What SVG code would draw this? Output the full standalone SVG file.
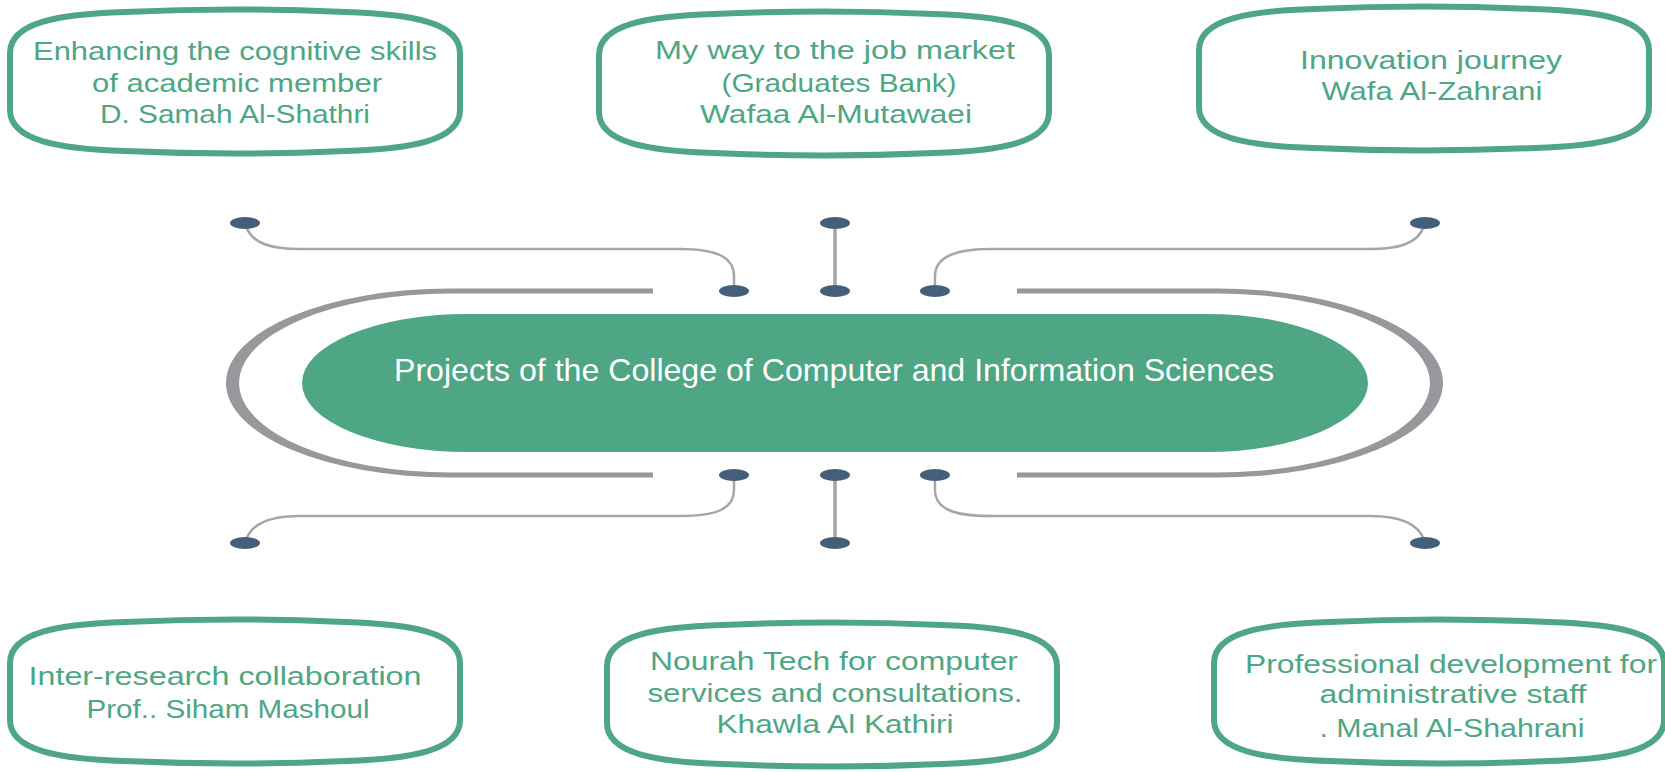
<svg xmlns="http://www.w3.org/2000/svg" xmlns:xlink="http://www.w3.org/1999/xlink" width="1665" height="772" viewBox="0 0 1665 772">
<style>
.box{fill:#ffffff;stroke:#4ea685;stroke-width:6}
.t{font-family:"Liberation Sans",Arial,sans-serif;font-size:26px;fill:#4ea685;text-anchor:middle}
.ct{font-family:"Liberation Sans",Arial,sans-serif;font-size:32px;fill:#ffffff;text-anchor:middle}
.con{fill:none;stroke:#a6a6aa;stroke-width:2.5}
.conv{fill:none;stroke:#a6a6aa;stroke-width:3.5}
.dot{fill:#445f79}
.arc{fill:#98989c}
</style>
<defs>
<path id="bx" d="M0,45 C0,14 50,6 115,4 Q225,-1 335,4 C400,6 450,14 450,45 L450,102 C450,133 400,141 335,143 Q225,148 115,143 C50,141 0,133 0,102 Z"/>
</defs>
<rect width="1665" height="772" fill="#ffffff"/>
<g id="connectors">
<path class="arc" d="M653,288.5 L450,288.5 A224,94.5 0 0 0 450,477.5 L653,477.5 L653,472.5 L450,472.5 A211,89.5 0 0 1 450,293.5 L653,293.5 Z"/>
<path class="arc" d="M1017,288.5 L1217,288.5 A226,94.5 0 0 1 1217,477.5 L1017,477.5 L1017,472.5 L1217,472.5 A213,89.5 0 0 0 1217,293.5 L1017,293.5 Z"/>
<path class="con" d="M246,226 C252,244 272,249 300,249 L680,249 C718,249 734,258 734,276 L734,290"/>
<path class="con" d="M1424,226 C1418,244 1398,249 1370,249 L990,249 C952,249 935,258 935,276 L935,290"/>
<path class="con" d="M734,476 L734,490 C734,508 718,516 680,516 L300,516 C272,516 252,522 246,540"/>
<path class="con" d="M935,476 L935,490 C935,508 952,516 990,516 L1370,516 C1398,516 1418,522 1424,540"/>
<path class="conv" d="M835,223 L835,291"/>
<path class="conv" d="M835,475 L835,543"/>
<ellipse class="dot" cx="245" cy="223" rx="15" ry="6"/>
<ellipse class="dot" cx="835" cy="223" rx="15" ry="6"/>
<ellipse class="dot" cx="1425" cy="223" rx="15" ry="6"/>
<ellipse class="dot" cx="734" cy="291" rx="15" ry="6"/>
<ellipse class="dot" cx="835" cy="291" rx="15" ry="6"/>
<ellipse class="dot" cx="935" cy="291" rx="15" ry="6"/>
<ellipse class="dot" cx="734" cy="475" rx="15" ry="6"/>
<ellipse class="dot" cx="835" cy="475" rx="15" ry="6"/>
<ellipse class="dot" cx="935" cy="475" rx="15" ry="6"/>
<ellipse class="dot" cx="245" cy="543" rx="15" ry="6"/>
<ellipse class="dot" cx="835" cy="543" rx="15" ry="6"/>
<ellipse class="dot" cx="1425" cy="543" rx="15" ry="6"/>
</g>
<g id="center">
<path d="M467,314 L1207,314 A161,69 0 0 1 1207,452 L467,452 A165,69 0 0 1 467,314 Z" fill="#4ea685"/>
<text class="ct" x="834" y="381" textLength="880" lengthAdjust="spacingAndGlyphs">Projects of the College of Computer and Information Sciences</text>
</g>
<g id="node1">
<use xlink:href="#bx" href="#bx" class="box" transform="translate(10,8)"/>
<text class="t" x="235" y="60" textLength="404" lengthAdjust="spacingAndGlyphs">Enhancing the cognitive skills</text>
<text class="t" x="237" y="92" textLength="290" lengthAdjust="spacingAndGlyphs">of academic member</text>
<text class="t" x="235" y="123" textLength="270" lengthAdjust="spacingAndGlyphs">D. Samah Al-Shathri</text>
</g>
<g id="node2">
<use xlink:href="#bx" href="#bx" class="box" transform="translate(599,10)"/>
<text class="t" x="835" y="59" textLength="360" lengthAdjust="spacingAndGlyphs">My way to the job market</text>
<text class="t" x="839" y="92" textLength="235" lengthAdjust="spacingAndGlyphs">(Graduates Bank)</text>
<text class="t" x="836" y="123" textLength="272" lengthAdjust="spacingAndGlyphs">Wafaa Al-Mutawaei</text>
</g>
<g id="node3">
<use xlink:href="#bx" href="#bx" class="box" transform="translate(1199,5)"/>
<text class="t" x="1431" y="69" textLength="262" lengthAdjust="spacingAndGlyphs">Innovation journey</text>
<text class="t" x="1432" y="100" textLength="221" lengthAdjust="spacingAndGlyphs">Wafa Al-Zahrani</text>
</g>
<g id="node4">
<use xlink:href="#bx" href="#bx" class="box" transform="translate(10,618)"/>
<text class="t" x="225" y="685" textLength="393" lengthAdjust="spacingAndGlyphs">Inter-research collaboration</text>
<text class="t" x="228" y="718" textLength="283" lengthAdjust="spacingAndGlyphs">Prof.. Siham Mashoul</text>
</g>
<g id="node5">
<use xlink:href="#bx" href="#bx" class="box" transform="translate(607,621)"/>
<text class="t" x="834" y="670" textLength="368" lengthAdjust="spacingAndGlyphs">Nourah Tech for computer</text>
<text class="t" x="835" y="702" textLength="375" lengthAdjust="spacingAndGlyphs">services and consultations.</text>
<text class="t" x="835" y="733" textLength="237" lengthAdjust="spacingAndGlyphs">Khawla Al Kathiri</text>
</g>
<g id="node6">
<use xlink:href="#bx" href="#bx" class="box" transform="translate(1214,618)"/>
<text class="t" x="1451" y="673" textLength="412" lengthAdjust="spacingAndGlyphs">Professional development for</text>
<text class="t" x="1453" y="703" textLength="267" lengthAdjust="spacingAndGlyphs">administrative staff</text>
<text class="t" x="1452" y="737" textLength="265" lengthAdjust="spacingAndGlyphs">. Manal Al-Shahrani</text>
</g>
</svg>
